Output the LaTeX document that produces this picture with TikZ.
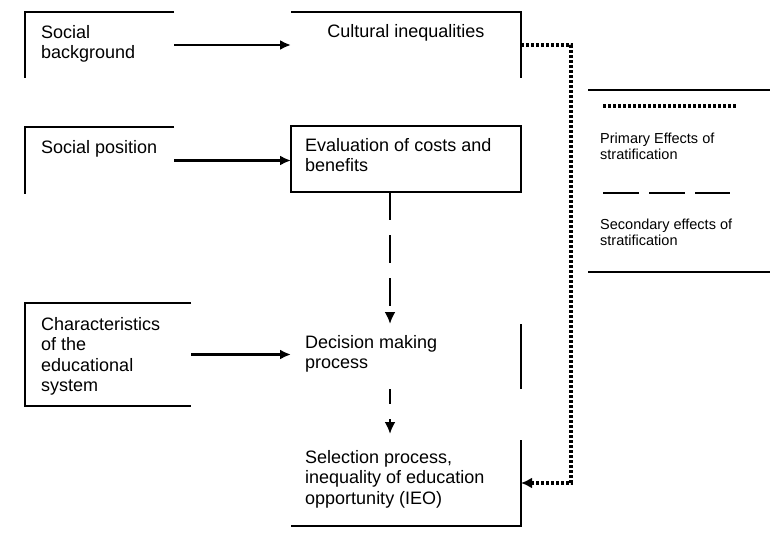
\documentclass[tikz,border=0pt]{standalone}
\usepackage{fontspec}
\setmainfont{Liberation Sans}
\usetikzlibrary{arrows.meta,positioning,calc}

\begin{document}
\begin{tikzpicture}[x=1pt, y=-1pt,
  cell/.style={draw=none, inner sep=0pt, outer sep=0pt},
  txt/.style={inner sep=0pt, anchor=north west, align=left, font=\fontsize{18}{20.5}\selectfont},
  keytxt/.style={inner sep=0pt, anchor=north west, align=left, font=\fontsize{14.5}{16}\selectfont},
  rim/.style={line width=2pt},
  flow/.style={line width=2.2pt, -{Latex[length=11pt,width=10pt]}},
  secondary/.style={line width=2.4pt, dash pattern=on 28pt off 15pt, -{Latex[length=12pt,width=11pt]}},
  primary/.style={line width=4pt, dash pattern=on 3.4pt off 1.6pt, -{Latex[length=11pt,width=11pt]}}]
  \useasboundingbox (0,0) rectangle (770,548);
  % Boxes (only some of their sides are drawn)
  \node[cell, minimum width=149pt, minimum height=66pt] (bg) at (99.5,45) {};
  \node[cell, minimum width=230pt, minimum height=66pt] (cult) at (406,45) {};
  \node[cell, minimum width=149pt, minimum height=67pt] (pos) at (99.5,160.5) {};
  \node[cell, minimum width=230pt, minimum height=66pt] (eval) at (406,159) {};
  \node[cell, minimum width=166pt, minimum height=103pt] (chr) at (108,354.5) {};
  \node[cell, minimum width=230pt, minimum height=65pt] (dec) at (406,356.5) {};
  \node[cell, minimum width=230pt, minimum height=86pt] (sel) at (406,483) {};
  \draw[rim] (bg.north east) -- (bg.north west) -- (bg.south west);
  \draw[rim] (cult.north west) -- (cult.north east) -- (cult.south east);
  \draw[rim] (pos.north east) -- (pos.north west) -- (pos.south west);
  \draw[rim] (eval.north west) rectangle (eval.south east);
  \draw[rim] (chr.north east) -- (chr.north west) -- (chr.south west) -- (chr.south east);
  \draw[rim] (dec.north east) -- (dec.south east);
  \draw[rim] (sel.north east) -- (sel.south east) -- (sel.south west);
  % Box texts
  \node[txt] (bgtxt) at ([shift={(16,13)}]bg.north west) {Social\\background};
  \node[txt, anchor=north] (culttxt) at ([shift={(0,12)}]cult.north) {Cultural inequalities};
  \node[txt] (postxt) at ([shift={(16,13)}]pos.north west) {Social position};
  \node[txt] (evaltxt) at ([shift={(14,12)}]eval.north west) {Evaluation of costs and\\benefits};
  \node[txt] (chrtxt) at ([shift={(16,14)}]chr.north west) {Characteristics\\of the\\educational\\system};
  \node[txt] (dectxt) at ([shift={(14,11)}]dec.north west) {Decision making\\process};
  \node[txt] (seltxt) at ([shift={(14,10)}]sel.north west) {Selection process,\\inequality of education\\opportunity (IEO)};
  % Horizontal arrows
  \draw[flow] (bg.east) -- (bg.east -| cult.west);
  \draw[flow] (pos.east) -- (pos.east -| eval.west);
  \draw[flow] (chr.east) -- (chr.east -| dec.west);
  % Secondary effects (dashed)
  \draw[secondary] ([xshift=-16pt]eval.south) -- ([xshift=-16pt]dec.north);
  \draw[secondary, dash pattern=on 15pt off 15pt, shorten >=6pt]
    ([xshift=-16pt]dec.south) -- ([xshift=-16pt]sel.north);
  % Primary effects (dotted)
  \draw[primary] (cult.east) -- ++(50,0) |- (sel.east);
  % Key
  \node[cell, minimum width=182pt, minimum height=182pt] (key) at (679,181) {};
  \draw[rim] (key.north west) -- (key.north east);
  \draw[rim] (key.south west) -- (key.south east);
  \draw[line width=3.5pt, dash pattern=on 3.4pt off 1.6pt]
    ([shift={(15,16)}]key.north west) -- ++(134,0);
  \node[keytxt] (primtxt) at ([shift={(12,43)}]key.north west) {Primary Effects of\\stratification};
  \draw[line width=1.8pt, dash pattern=on 36pt off 10pt]
    ([shift={(15,103)}]key.north west) -- ++(127,0);
  \node[keytxt] (sectxt) at ([shift={(12,129)}]key.north west) {Secondary effects of\\stratification};
\end{tikzpicture}
\end{document}
